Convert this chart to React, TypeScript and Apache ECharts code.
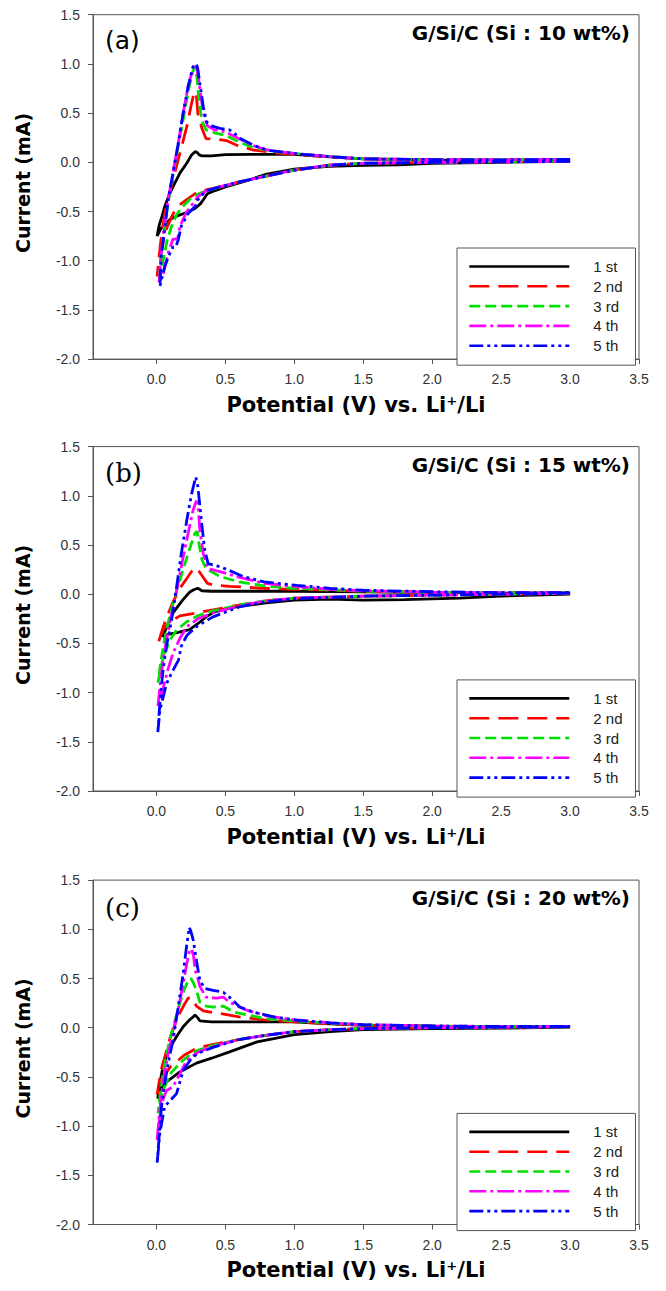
import React, { useEffect, useRef } from "react";
import * as echarts from "echarts";

// ---------- data ----------
const cycleNames = ["1 st", "2 nd", "3 rd", "4 th", "5 th"];
const panelLetters = ["(a)", "(b)", "(c)"];
const panelTitles = ["G/Si/C (Si : 10 wt%)", "G/Si/C (Si : 15 wt%)", "G/Si/C (Si : 20 wt%)"];
const xTickValues = [0, 0.5, 1.0, 1.5, 2.0, 2.5, 3.0, 3.5];
const yTickValues = [-2.0, -1.5, -1.0, -0.5, 0.0, 0.5, 1.0, 1.5];
const xAxisTitle = "Potential (V) vs. Li\u207A/Li";
const yAxisTitle = "Current (mA)";

// Panel (a) Si 10 wt% : [potential V, current mA], cathodic sweep then anodic sweep
const a1 = [[3.0, 0.01], [2.5, 0.0], [2.0, -0.01], [1.75, -0.025], [1.5, -0.03], [1.25, -0.04], [1.0, -0.07], [0.8, -0.12], [0.65, -0.19], [0.5, -0.25], [0.42, -0.29], [0.37, -0.32], [0.35, -0.36], [0.32, -0.42], [0.28, -0.47], [0.22, -0.51], [0.15, -0.545], [0.1, -0.58], [0.06, -0.63], [0.03, -0.68], [0.005, -0.75],
  [0.02, -0.64], [0.04, -0.55], [0.06, -0.45], [0.09, -0.34], [0.12, -0.25], [0.17, -0.11], [0.22, -0.01], [0.255, 0.075], [0.28, 0.108], [0.295, 0.1], [0.31, 0.075], [0.33, 0.065], [0.4, 0.065], [0.5, 0.078], [0.7, 0.08], [1.0, 0.08], [1.2, 0.06], [1.5, 0.035], [2.0, 0.025], [2.5, 0.022], [3.0, 0.025]];
const a2 = [[3.0, 0.01], [2.5, 0.005], [2.0, 0.0], [1.5, -0.01], [1.25, -0.03], [1.0, -0.08], [0.78, -0.145], [0.6, -0.2], [0.46, -0.25], [0.36, -0.28], [0.29, -0.31], [0.22, -0.38], [0.17, -0.43], [0.13, -0.5], [0.1, -0.585], [0.06, -0.72], [0.025, -0.99], [0.005, -1.16],
  [0.02, -0.95], [0.04, -0.7], [0.07, -0.45], [0.12, -0.18], [0.17, 0.09], [0.22, 0.36], [0.255, 0.6], [0.275, 0.72], [0.29, 0.68], [0.3, 0.5], [0.33, 0.345], [0.36, 0.24], [0.44, 0.235], [0.51, 0.22], [0.58, 0.175], [0.7, 0.125], [0.9, 0.09], [1.0, 0.08], [1.25, 0.055], [1.5, 0.035], [2.0, 0.025], [2.5, 0.025], [3.0, 0.025]];
const a3 = [[3.0, 0.01], [2.5, 0.005], [2.0, 0.0], [1.5, -0.01], [1.25, -0.03], [1.0, -0.08], [0.78, -0.145], [0.6, -0.2], [0.46, -0.25], [0.36, -0.29], [0.29, -0.33], [0.24, -0.38], [0.19, -0.45], [0.145, -0.535], [0.11, -0.65], [0.078, -0.79], [0.05, -0.99], [0.018, -1.23],
  [0.03, -1.0], [0.05, -0.75], [0.08, -0.45], [0.12, -0.13], [0.16, 0.18], [0.2, 0.48], [0.235, 0.75], [0.265, 0.93], [0.28, 0.97], [0.295, 0.85], [0.31, 0.6], [0.33, 0.42], [0.36, 0.33], [0.42, 0.3], [0.5, 0.275], [0.58, 0.22], [0.7, 0.15], [0.85, 0.11], [1.0, 0.09], [1.25, 0.06], [1.5, 0.035], [2.0, 0.025], [2.5, 0.025], [3.0, 0.028]];
const a4 = [[3.0, 0.01], [2.5, 0.005], [2.0, 0.0], [1.5, -0.01], [1.25, -0.03], [1.0, -0.08], [0.78, -0.145], [0.6, -0.2], [0.46, -0.25], [0.36, -0.29], [0.3, -0.35], [0.267, -0.415], [0.22, -0.5], [0.17, -0.65], [0.155, -0.77], [0.14, -0.78], [0.12, -0.78], [0.085, -0.92], [0.05, -1.13], [0.02, -1.23],
  [0.03, -1.0], [0.05, -0.72], [0.085, -0.38], [0.12, -0.11], [0.158, 0.19], [0.194, 0.5], [0.23, 0.77], [0.267, 0.97], [0.285, 1.0], [0.3, 0.9], [0.315, 0.75], [0.34, 0.5], [0.37, 0.37], [0.42, 0.33], [0.5, 0.31], [0.6, 0.24], [0.7, 0.17], [0.82, 0.12], [1.0, 0.09], [1.25, 0.058], [1.5, 0.035], [2.0, 0.027], [2.5, 0.025], [3.0, 0.03]];
const a5 = [[3.0, 0.01], [2.5, 0.005], [2.0, 0.0], [1.5, -0.01], [1.25, -0.03], [1.0, -0.08], [0.78, -0.145], [0.6, -0.2], [0.46, -0.25], [0.36, -0.29], [0.3, -0.38], [0.28, -0.45], [0.23, -0.52], [0.18, -0.65], [0.158, -0.79], [0.14, -0.86], [0.12, -0.86], [0.09, -0.95], [0.06, -1.06], [0.025, -1.26],
  [0.035, -0.95], [0.06, -0.69], [0.085, -0.38], [0.12, -0.11], [0.158, 0.19], [0.194, 0.5], [0.23, 0.77], [0.265, 0.97], [0.29, 1.0], [0.3, 0.95], [0.315, 0.8], [0.34, 0.565], [0.364, 0.41], [0.4, 0.37], [0.46, 0.345], [0.53, 0.33], [0.56, 0.3], [0.605, 0.245], [0.7, 0.175], [0.8, 0.125], [1.0, 0.09], [1.26, 0.057], [1.5, 0.035], [2.0, 0.028], [2.5, 0.025], [3.0, 0.03]];

// Panel (b) Si 15 wt%
const b1 = [[3.0, 0.0], [2.5, -0.02], [2.2, -0.04], [1.8, -0.055], [1.5, -0.06], [1.26, -0.05], [1.0, -0.06], [0.78, -0.09], [0.53, -0.14], [0.42, -0.18], [0.36, -0.23], [0.3, -0.3], [0.24, -0.36], [0.15, -0.39], [0.073, -0.41], [0.045, -0.43],
  [0.06, -0.38], [0.09, -0.28], [0.12, -0.19], [0.19, -0.06], [0.24, 0.02], [0.27, 0.045], [0.3, 0.06], [0.33, 0.035], [0.4, 0.03], [0.6, 0.03], [1.0, 0.03], [1.5, 0.025], [2.0, 0.015], [2.5, 0.01], [3.0, 0.015]];
const b2 = [[3.0, 0.01], [2.5, 0.0], [2.0, -0.01], [1.5, -0.02], [1.0, -0.04], [0.78, -0.07], [0.6, -0.11], [0.41, -0.16], [0.29, -0.19], [0.17, -0.22], [0.1, -0.28], [0.05, -0.36], [0.025, -0.44], [0.01, -0.52],
  [0.03, -0.42], [0.05, -0.33], [0.073, -0.24], [0.12, -0.08], [0.17, 0.06], [0.22, 0.16], [0.255, 0.23], [0.285, 0.27], [0.31, 0.23], [0.34, 0.17], [0.37, 0.11], [0.41, 0.095], [0.53, 0.08], [0.78, 0.06], [1.0, 0.05], [1.26, 0.04], [1.5, 0.03], [2.0, 0.02], [2.5, 0.015], [3.0, 0.015]];
const b3 = [[3.0, 0.01], [2.5, 0.0], [2.0, -0.01], [1.5, -0.02], [1.0, -0.04], [0.78, -0.07], [0.6, -0.11], [0.41, -0.17], [0.3, -0.22], [0.22, -0.28], [0.15, -0.36], [0.1, -0.46], [0.06, -0.6], [0.03, -0.75], [0.012, -0.9],
  [0.03, -0.7], [0.06, -0.45], [0.1, -0.2], [0.15, 0.05], [0.2, 0.28], [0.25, 0.5], [0.28, 0.62], [0.295, 0.64], [0.31, 0.5], [0.33, 0.35], [0.36, 0.26], [0.46, 0.18], [0.6, 0.125], [0.8, 0.08], [1.0, 0.06], [1.26, 0.045], [1.5, 0.03], [2.0, 0.02], [2.5, 0.015], [3.0, 0.015]];
const b4 = [[3.0, 0.01], [2.5, 0.0], [2.0, -0.01], [1.5, -0.02], [1.0, -0.04], [0.78, -0.07], [0.6, -0.12], [0.41, -0.19], [0.3, -0.25], [0.22, -0.33], [0.17, -0.45], [0.12, -0.6], [0.08, -0.78], [0.05, -0.95], [0.03, -1.05], [0.01, -1.15],
  [0.025, -0.95], [0.045, -0.7], [0.075, -0.45], [0.11, -0.2], [0.15, 0.06], [0.19, 0.35], [0.23, 0.62], [0.265, 0.85], [0.29, 0.95], [0.305, 0.85], [0.315, 0.65], [0.34, 0.41], [0.375, 0.26], [0.46, 0.23], [0.58, 0.18], [0.78, 0.11], [1.0, 0.08], [1.26, 0.05], [1.5, 0.035], [2.0, 0.02], [2.5, 0.015], [3.0, 0.015]];
const b5 = [[3.0, 0.01], [2.5, 0.0], [2.0, -0.01], [1.5, -0.02], [1.0, -0.045], [0.78, -0.08], [0.6, -0.13], [0.41, -0.23], [0.29, -0.33], [0.22, -0.42], [0.18, -0.53], [0.16, -0.67], [0.11, -0.8], [0.073, -0.91], [0.025, -1.18], [0.01, -1.41],
  [0.02, -1.2], [0.035, -0.95], [0.05, -0.75], [0.073, -0.53], [0.11, -0.26], [0.146, 0.07], [0.18, 0.41], [0.22, 0.75], [0.255, 1.02], [0.285, 1.19], [0.3, 1.1], [0.315, 0.9], [0.33, 0.7], [0.35, 0.45], [0.375, 0.31], [0.46, 0.28], [0.53, 0.24], [0.63, 0.18], [0.78, 0.125], [1.02, 0.09], [1.26, 0.06], [1.5, 0.04], [2.0, 0.025], [2.5, 0.015], [3.0, 0.015]];

// Panel (c) Si 20 wt%
const c1 = [[3.0, 0.005], [2.5, -0.005], [2.0, -0.01], [1.5, -0.02], [1.26, -0.04], [1.0, -0.07], [0.73, -0.144], [0.53, -0.245], [0.4, -0.31], [0.29, -0.36], [0.17, -0.45], [0.073, -0.55], [0.03, -0.63], [0.01, -0.72],
  [0.02, -0.6], [0.04, -0.45], [0.07, -0.3], [0.1, -0.2], [0.146, -0.09], [0.194, 0.01], [0.24, 0.08], [0.267, 0.11], [0.28, 0.13], [0.3, 0.1], [0.315, 0.07], [0.4, 0.06], [0.53, 0.06], [1.0, 0.06], [1.26, 0.04], [1.5, 0.025], [2.0, 0.015], [2.5, 0.01], [3.0, 0.012]];
const c2 = [[3.0, 0.01], [2.5, 0.005], [2.0, 0.0], [1.5, -0.01], [1.26, -0.02], [1.0, -0.04], [0.78, -0.08], [0.6, -0.12], [0.41, -0.17], [0.29, -0.21], [0.2, -0.28], [0.1, -0.4], [0.05, -0.5], [0.025, -0.6], [0.005, -0.68],
  [0.02, -0.55], [0.04, -0.4], [0.07, -0.25], [0.1, -0.1], [0.14, 0.05], [0.17, 0.15], [0.2, 0.23], [0.23, 0.3], [0.25, 0.31], [0.27, 0.27], [0.29, 0.22], [0.34, 0.17], [0.46, 0.145], [0.6, 0.11], [0.78, 0.08], [1.0, 0.06], [1.26, 0.04], [1.5, 0.025], [2.0, 0.015], [2.5, 0.01], [3.0, 0.012]];
const c3 = [[3.0, 0.01], [2.5, 0.005], [2.0, 0.0], [1.5, -0.01], [1.26, -0.02], [1.0, -0.04], [0.78, -0.08], [0.6, -0.12], [0.41, -0.18], [0.3, -0.23], [0.245, -0.27], [0.17, -0.36], [0.1, -0.47], [0.06, -0.6], [0.037, -0.68], [0.012, -0.87],
  [0.025, -0.7], [0.045, -0.5], [0.07, -0.3], [0.1, -0.1], [0.14, 0.1], [0.17, 0.25], [0.2, 0.38], [0.23, 0.48], [0.25, 0.5], [0.27, 0.45], [0.29, 0.38], [0.315, 0.26], [0.36, 0.22], [0.41, 0.21], [0.485, 0.22], [0.56, 0.16], [0.78, 0.095], [1.0, 0.07], [1.26, 0.045], [1.5, 0.03], [2.0, 0.015], [2.5, 0.012], [3.0, 0.012]];
const c4 = [[3.0, 0.01], [2.5, 0.005], [2.0, 0.0], [1.5, -0.01], [1.26, -0.02], [1.0, -0.04], [0.78, -0.08], [0.6, -0.12], [0.41, -0.19], [0.3, -0.25], [0.22, -0.33], [0.17, -0.47], [0.12, -0.6], [0.073, -0.64], [0.05, -0.72], [0.037, -0.8], [0.02, -0.95], [0.005, -1.14],
  [0.02, -0.9], [0.035, -0.7], [0.055, -0.5], [0.08, -0.3], [0.12, -0.05], [0.16, 0.2], [0.19, 0.42], [0.22, 0.65], [0.24, 0.78], [0.255, 0.8], [0.27, 0.72], [0.28, 0.59], [0.3, 0.5], [0.315, 0.42], [0.36, 0.31], [0.44, 0.3], [0.485, 0.31], [0.53, 0.26], [0.65, 0.18], [0.8, 0.12], [1.0, 0.08], [1.26, 0.05], [1.5, 0.03], [2.0, 0.018], [2.5, 0.012], [3.0, 0.012]];
const c5 = [[3.0, 0.01], [2.5, 0.005], [2.0, 0.0], [1.5, -0.01], [1.26, -0.02], [1.0, -0.04], [0.78, -0.08], [0.6, -0.12], [0.41, -0.2], [0.3, -0.26], [0.25, -0.32], [0.195, -0.43], [0.146, -0.67], [0.1, -0.74], [0.06, -0.8], [0.025, -1.07], [0.005, -1.38],
  [0.02, -1.1], [0.037, -0.8], [0.06, -0.57], [0.085, -0.36], [0.12, -0.13], [0.158, 0.21], [0.194, 0.55], [0.218, 0.82], [0.238, 1.02], [0.25, 0.98], [0.267, 0.89], [0.29, 0.685], [0.315, 0.48], [0.35, 0.4], [0.41, 0.38], [0.485, 0.36], [0.53, 0.31], [0.605, 0.21], [0.7, 0.16], [0.85, 0.11], [1.02, 0.076], [1.26, 0.05], [1.5, 0.03], [2.0, 0.018], [2.5, 0.012], [3.0, 0.012]];

const panelData = [
  [a1, a2, a3, a4, a5],
  [b1, b2, b3, b4, b5],
  [c1, c2, c3, c4, c5],
];

// ---------- styles / layout ----------
const cycleColors = ["#000000", "#ff0000", "#00e000", "#ff00ff", "#0000ff"];
const cycleDashes: any[] = ["solid", [20, 9], [11, 5], [17, 4, 3, 4], [14, 4, 3, 4, 3, 4]];
const gridTops = [14.7, 446.6, 880.1];
const gridHeight = 344.4;
const gridLeft = 93;
const gridRight = 27;
const xMin = -0.46;
const xMax = 3.5;
const axisColor = "#555555";
const letterFonts = ["DejaVu Sans", "DejaVu Serif", "DejaVu Serif"];

export default function App() {
  const ref = useRef<HTMLDivElement>(null);
  useEffect(() => {
    if (!ref.current) return;
    const chart = echarts.init(ref.current, undefined, { renderer: "svg" });

    const grids: any[] = [];
    const xAxes: any[] = [];
    const yAxes: any[] = [];
    const series: any[] = [];
    const legends: any[] = [];
    const graphics: any[] = [];

    panelData.forEach((cycles, p) => {
      const top = gridTops[p];
      grids.push({
        left: gridLeft,
        right: gridRight,
        top,
        height: gridHeight,
        show: true,
        borderColor: axisColor,
        borderWidth: 1,
        backgroundColor: "transparent",
      });
      xAxes.push({
        type: "value",
        gridIndex: p,
        min: xMin,
        max: xMax,
        name: xAxisTitle,
        nameLocation: "middle",
        nameGap: 35,
        nameTextStyle: {
          fontFamily: "DejaVu Sans",
          fontWeight: "bold",
          fontSize: 21,
          color: "#000",
          padding: [0, 20, 0, 0],
        },
        axisLine: { show: true, onZero: false, lineStyle: { color: axisColor, width: 1 } },
        axisTick: { show: true, inside: false, length: 5, customValues: xTickValues, lineStyle: { color: axisColor } },
        axisLabel: {
          customValues: xTickValues,
          margin: 13,
          fontFamily: "Liberation Sans",
          fontSize: 14,
          color: "#333",
          formatter: (v: number) => v.toFixed(1),
        },
        splitLine: { show: false },
      });
      yAxes.push({
        type: "value",
        gridIndex: p,
        min: yTickValues[0],
        max: yTickValues[yTickValues.length - 1],
        interval: 0.5,
        name: yAxisTitle,
        nameLocation: "middle",
        nameGap: 61,
        nameRotate: 90,
        nameTextStyle: {
          fontFamily: "DejaVu Sans",
          fontWeight: "bold",
          fontSize: 19,
          color: "#000",
          padding: [0, 0, 0, 8],
        },
        axisLine: { show: true, onZero: false, lineStyle: { color: axisColor, width: 1 } },
        axisTick: { show: true, inside: false, length: 5, lineStyle: { color: axisColor } },
        axisLabel: {
          margin: 13,
          fontFamily: "Liberation Sans",
          fontSize: 14,
          color: "#333",
          formatter: (v: number) => v.toFixed(1),
        },
        splitLine: { show: false },
      });
      cycles.forEach((data, k) => {
        series.push({
          type: "line",
          name: cycleNames[k],
          xAxisIndex: p,
          yAxisIndex: p,
          data,
          symbol: "none",
          showSymbol: false,
          smooth: false,
          clip: true,
          lineStyle: { color: cycleColors[k], width: 2.8, type: cycleDashes[k] },
          itemStyle: { color: cycleColors[k] },
          z: 2 + k,
        });
      });
      legends.push({
        data: cycleNames,
        orient: "vertical",
        left: 457,
        top: top + 233.3,
        itemWidth: 100,
        itemHeight: 12,
        itemGap: 4.8,
        padding: [11, 13, 12, 11],
        borderColor: axisColor,
        borderWidth: 1,
        backgroundColor: "#fff",
        selectedMode: false,
        lineStyle: { width: 2.6 },
        itemStyle: { color: "transparent", borderColor: "transparent", borderWidth: 0, opacity: 0 },
        textStyle: {
          fontFamily: "Liberation Sans",
          fontSize: 15,
          color: "#222",
          padding: [0, 0, 0, 19],
        },
      });
      graphics.push({
        type: "text",
        x: 105,
        y: top + (p === 2 ? 27.5 : 26),
        style: {
          text: panelLetters[p],
          fontFamily: letterFonts[p],
          fontSize: p === 0 ? 25 : 26,
          fill: "#000",
          align: "left",
          verticalAlign: "middle",
        },
        z: 100,
      });
      graphics.push({
        type: "text",
        x: 630,
        y: top + 18,
        style: {
          text: panelTitles[p],
          fontFamily: "DejaVu Sans",
          fontWeight: "bold",
          fontSize: 20,
          fill: "#000",
          align: "right",
          verticalAlign: "middle",
        },
        z: 100,
      });
    });

    chart.setOption({
      animation: false,
      backgroundColor: "#ffffff",
      grid: grids,
      xAxis: xAxes,
      yAxis: yAxes,
      series,
      legend: legends,
      graphic: graphics,
    });
    return () => chart.dispose();
  }, []);

  return (
    <div
      ref={ref}
      style={{ position: "absolute", left: 0, top: 0, width: 666, height: 1291, background: "#fff" }}
    />
  );
}
